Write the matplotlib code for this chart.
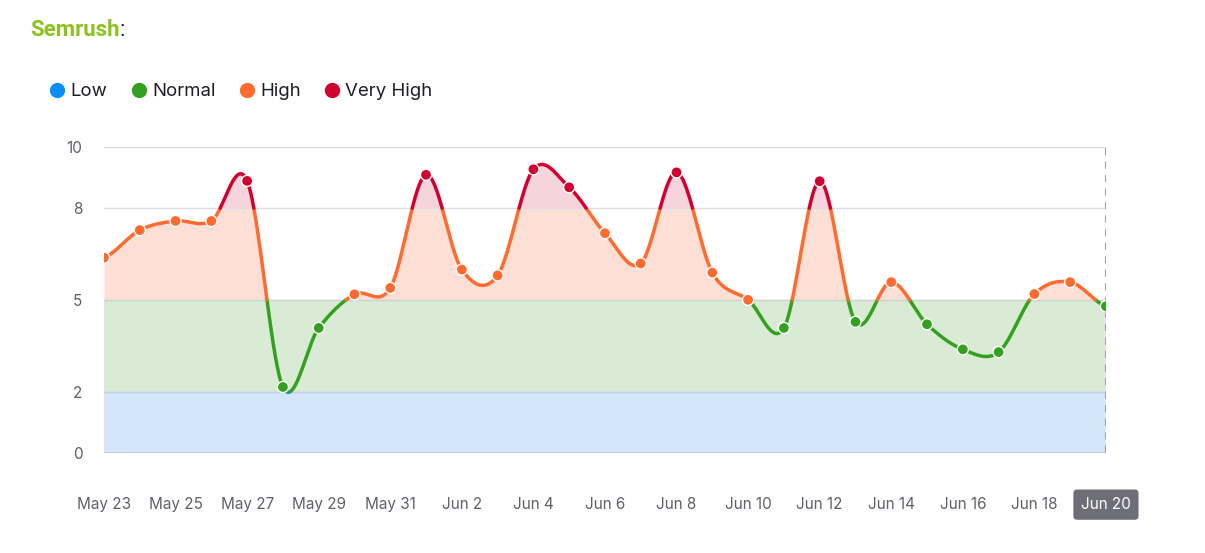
import numpy as np
import matplotlib.pyplot as plt
from matplotlib.lines import Line2D

# daily sensor values, May 23 - Jun 20
days = ['May 23', 'May 24', 'May 25', 'May 26', 'May 27', 'May 28', 'May 29',
        'May 30', 'May 31', 'Jun 1', 'Jun 2', 'Jun 3', 'Jun 4', 'Jun 5',
        'Jun 6', 'Jun 7', 'Jun 8', 'Jun 9', 'Jun 10', 'Jun 11', 'Jun 12',
        'Jun 13', 'Jun 14', 'Jun 15', 'Jun 16', 'Jun 17', 'Jun 18', 'Jun 19',
        'Jun 20']
values = [6.38, 7.28, 7.58, 7.58, 8.89, 2.15, 4.08, 5.18, 5.39, 9.09,
          5.99, 5.80, 9.27, 8.68, 7.18, 6.19, 9.17, 5.89, 5.00, 4.08,
          8.88, 4.28, 5.58, 4.20, 3.38, 3.29, 5.19, 5.58, 4.79]

zone_names = ['Low', 'Normal', 'High', 'Very High']
zone_edges = [0, 2, 5, 8, 10]
zone_colors = ['#0A8FF7', '#33A11F', '#FF6A2E', '#D2002F']
zone_fills = ['#D3E6FA', '#D9EBD4', '#FDDFD6', '#F6D4DC']

x = np.arange(len(values))
y = np.array(values)

# cardinal (catmull-rom) spline through the points
m = np.zeros_like(y)
m[1:-1] = (y[2:] - y[:-2]) / 2
m[0] = (y[1] - y[0]) / 2
m[-1] = (y[-1] - y[-2]) / 2
xs, ys = [], []
for i in range(len(y) - 1):
    t = np.linspace(0, 1, 80, endpoint=False)
    h00 = 2*t**3 - 3*t**2 + 1
    h10 = t**3 - 2*t**2 + t
    h01 = -2*t**3 + 3*t**2
    h11 = t**3 - t**2
    xs.append(x[i] + t)
    ys.append(h00*y[i] + h10*m[i] + h01*y[i+1] + h11*m[i+1])
xs.append([x[-1]])
ys.append([y[-1]])
xs = np.concatenate(xs)
ys = np.concatenate(ys)

# insert threshold crossings so zone colours join cleanly
px, py = [xs[0]], [ys[0]]
for i in range(1, len(xs)):
    for th in (2, 5, 8):
        a, b = ys[i-1], ys[i]
        if (a - th) * (b - th) < 0:
            f = (th - a) / (b - a)
            px.append(xs[i-1] + f*(xs[i] - xs[i-1]))
            py.append(th)
    px.append(xs[i])
    py.append(ys[i])
order = np.argsort(px, kind='stable')
px = np.array(px)[order]
py = np.array(py)[order]

plt.rcParams['font.family'] = ['Inter', 'DejaVu Sans']
fig = plt.figure(figsize=(12.05, 5.53), dpi=100)
ax = fig.add_axes([0.0863, 0.1814, 0.8315, 0.5528])

# zone bands / area fills
ax.axhspan(0, 2, color=zone_fills[0], lw=0, zorder=0)
ax.axhspan(2, 5, color=zone_fills[1], lw=0, zorder=0)
ax.fill_between(px, 5, np.clip(py, 5, 8), color=zone_fills[2], lw=0, zorder=0)
ax.fill_between(px, 8, np.maximum(py, 8), color=zone_fills[3], lw=0, zorder=0)

for g in [2, 5, 8, 10]:
    ax.axhline(g, color='#DCDCE6', lw=1, zorder=1)
ax.axhline(0, color='#B9C9DA', lw=1.2, zorder=1)
ax.axhline(2, color='#BCD3EC', lw=1, zorder=1)
ax.axhline(5, color='#CBD6CC', lw=1, zorder=1)

# line, coloured by zone
eps = 1e-9
for k in range(4):
    lo, hi = zone_edges[k], zone_edges[k+1]
    seg = np.where((py >= lo - eps) & (py <= hi + eps), py, np.nan)
    if k == 0:
        seg = np.where(py <= hi + eps, py, np.nan)
    if k == 3:
        seg = np.where(py >= lo - eps, py, np.nan)
    ax.plot(px, seg, color=zone_colors[k], lw=2.5, zorder=3,
            solid_capstyle='round')

# markers
mcol = []
for v in values:
    k = 0
    for j in range(1, 4):
        if v >= zone_edges[j]:
            k = j
    mcol.append(zone_colors[k])
ax.scatter(x, y, s=64, c=mcol, edgecolors='white', linewidths=1.0, zorder=4)

ax.axvline(x[-1], color='#A2A2AC', lw=1.5, ls=(0, (3.5, 3)), zorder=2)

ax.set_xlim(0, len(values) - 1)
ax.set_ylim(0, 10)
ax.set_yticks([0, 2, 5, 8, 10])
ax.set_xticks(x[::2])
ax.set_xticklabels(days[::2])
for s in ax.spines.values():
    s.set_visible(False)
ax.tick_params(axis='both', length=0, colors='#5F6068', labelsize=11)
ax.tick_params(axis='y', pad=15.5)
ax.tick_params(axis='x', pad=32)
last = ax.get_xticklabels()[-1]
last.set_color('white')
last.set_bbox(dict(boxstyle='round,pad=0.5,rounding_size=0.25',
                   fc='#6E6E78', ec='none'))

# title
fig.text(0.0249, 0.935, 'Semrush', color='#8CC21E', fontsize=16,
         fontweight='bold', family='Roboto', va='baseline')
fig.text(0.0995, 0.935, ':', color='#222222', fontsize=16,
         family='Roboto', va='baseline')

handles = [Line2D([], [], ls='none', marker='o', ms=11, color=c,
                  markeredgewidth=0) for c in zone_colors]
fig.legend(handles, zone_names, loc='center left',
           bbox_to_anchor=(0.0415, 0.834), ncol=4, frameon=False,
           fontsize=13.4, handlelength=0.8, handletextpad=0.3,
           columnspacing=1.3, borderpad=0, borderaxespad=0,
           labelcolor='#1E1E24')

fig.savefig('out.png', dpi=100)
